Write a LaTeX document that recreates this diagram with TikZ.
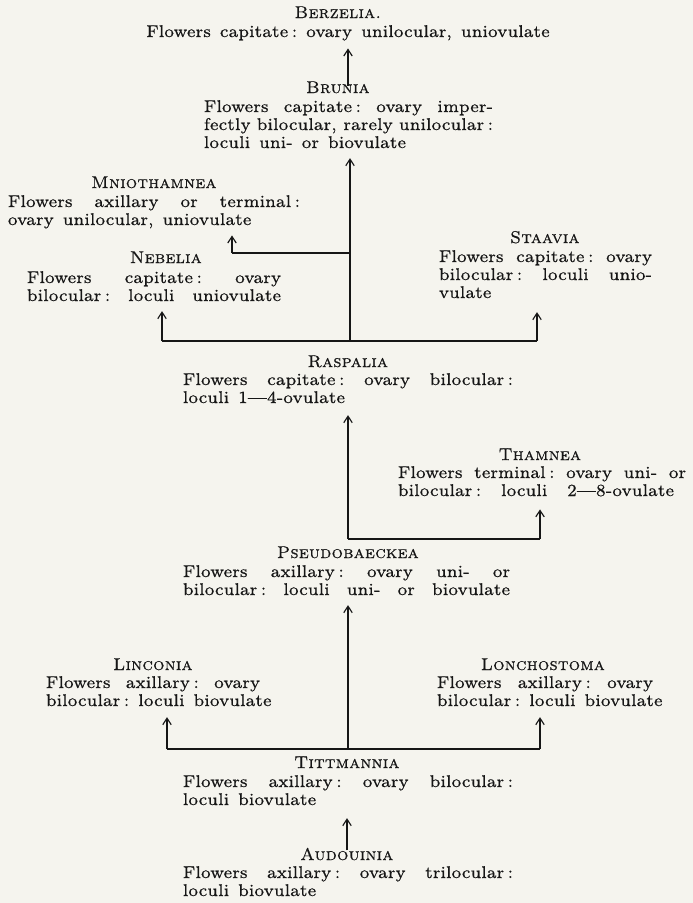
\documentclass[tikz,border=0pt]{standalone}
\usepackage{fontspec}
\setmainfont{lmroman8-regular}[Extension=.otf, SmallCapsFont=lmromancaps10-regular, FakeStretch=1.04, LetterSpace=2, WordSpace=1.4, FakeBold=0.6]
\usetikzlibrary{arrows.meta}
\definecolor{paper}{RGB}{245,244,238}
\definecolor{ink}{RGB}{22,22,22}
\newcommand\jl[2]{\makebox[#1pt][s]{#2}}
\newcommand\cln{\hspace{.22em}:}
\tikzset{
  txt/.style={inner sep=0pt, outer sep=0pt, text=ink, font=\fontsize{17}{18}\selectfont},
  nm/.style={txt, anchor=base},
  body/.style={txt, anchor=base west},
  arr/.style={draw=ink, line width=1.15pt, -{Straight Barb[length=6.5pt,width=8.5pt]}},
  hl/.style={draw=ink, line width=1.6pt},
}
\begin{document}
\begin{tikzpicture}[x=1pt, y=-1pt]
\fill[paper] (0,0) rectangle (693,903);
\useasboundingbox (0,0) rectangle (693,903);

% Berzelia
\node[nm] (berzN) at (338,18) {\textsc{Berzelia.}};
\node[nm] (berz) at (348,37) {Flowers capitate\cln\ ovary unilocular, uniovulate};
% Brunia
\node[nm] (brunN) at (338,93) {\textsc{Brunia}};
\node[body] (brun) at (204,112) {\vtop{\hbox{\jl{289}{Flowers capitate\cln\ ovary imper-}}\hbox{\jl{289}{fectly bilocular, rarely unilocular\cln}}\hbox{loculi uni- or biovulate}}};
% Mniothamnea
\node[nm] (mnioN) at (154,188) {\textsc{Mniothamnea}};
\node[body] (mnio) at (8,207) {\vtop{\hbox{\jl{292}{Flowers axillary or terminal\cln}}\hbox{ovary unilocular, uniovulate}}};
% Nebelia
\node[nm] (nebN) at (166,263) {\textsc{Nebelia}};
\node[body] (neb) at (27,283) {\vtop{\hbox{\jl{254}{Flowers capitate\cln\ ovary}}\hbox{\jl{254}{bilocular\cln\ loculi uniovulate}}}};
% Staavia
\node[nm] (staN) at (545,243) {\textsc{Staavia}};
\node[body] (sta) at (439,262) {\vtop{\hbox{\jl{213}{Flowers capitate\cln\ ovary}}\hbox{\jl{213}{bilocular\cln\ loculi unio-}}\hbox{vulate}}};
% Raspalia
\node[nm] (rasN) at (348,367) {\textsc{Raspalia}};
\node[body] (ras) at (183,385) {\vtop{\hbox{\jl{330}{Flowers capitate\cln\ ovary bilocular\cln}}\hbox{loculi 1—4-ovulate}}};
% Thamnea
\node[nm] (thaN) at (540,460) {\textsc{Thamnea}};
\node[body] (tha) at (398,478) {\vtop{\hbox{\jl{288}{Flowers terminal\cln\ ovary uni- or}}\hbox{\jl{276}{bilocular\cln\ loculi 2—8-ovulate}}}};
% Pseudobaeckea
\node[nm] (pseN) at (348,558) {\textsc{Pseudobaeckea}};
\node[body] (pse) at (183,577) {\vtop{\hbox{\jl{327}{Flowers axillary\cln\ ovary uni- or}}\hbox{\jl{327}{bilocular\cln\ loculi uni- or biovulate}}}};
% Linconia
\node[nm] (linN) at (153,670) {\textsc{Linconia}};
\node[body] (lin) at (46,688) {\vtop{\hbox{\jl{214}{Flowers axillary\cln\ ovary}}\hbox{bilocular\cln\ loculi biovulate}}};
% Lonchostoma
\node[nm] (lonN) at (543,670) {\textsc{Lonchostoma}};
\node[body] (lon) at (437,688) {\vtop{\hbox{\jl{216}{Flowers axillary\cln\ ovary}}\hbox{bilocular\cln\ loculi biovulate}}};
% Tittmannia
\node[nm] (titN) at (347,768) {\textsc{Tittmannia}};
\node[body] (tit) at (183,787) {\vtop{\hbox{\jl{330}{Flowers axillary\cln\ ovary bilocular\cln}}\hbox{loculi biovulate}}};
% Audouinia
\node[nm] (audN) at (347,860) {\textsc{Audouinia}};
\node[body] (aud) at (183,878) {\vtop{\hbox{\jl{330}{Flowers axillary\cln\ ovary trilocular\cln}}\hbox{loculi biovulate}}};

% junctions
\coordinate (b1M) at (350,341);
\coordinate (b1L) at (162,341);
\coordinate (b1R) at (537,341);
\coordinate (m1) at (350,253);
\coordinate (m2) at (232,253);
\coordinate (c2) at (348,539);
\coordinate (c2t) at (540,539);
\coordinate (b3M) at (348,749);
\coordinate (b3L) at (167,749);
\coordinate (b3R) at (540,749);

% connectors
\draw[arr, shorten <=-4.5pt, shorten >=8pt] (berz.south |- brunN.north) -- (berz.south);

\draw[hl] (b1L) -- (b1R);
\draw[arr, shorten >=10pt] (b1M) -- (b1M |- brun.south);
\draw[arr, shorten >=10pt] (b1L) -- (b1L |- neb.south);
\draw[arr, shorten >=14pt] (b1R) -- (b1R |- sta.south);
\draw[hl, line width=1.3pt] (m1) -- (m2);
\draw[arr, shorten >=7pt] (m2) -- (m2 |- mnio.south);

\draw[hl] (c2) -- (c2t);
\draw[arr, shorten >=12pt] (c2) -- (c2 |- ras.south);
\draw[arr, shorten >=13pt] (c2t) -- (c2t |- tha.south);

\draw[hl] (b3L) -- (b3R);
\draw[arr, shorten >=10pt] (b3M) -- (b3M |- pse.south);
\draw[arr, shorten >=11pt] (b3L) -- (b3L |- lin.south);
\draw[arr, shorten >=11pt] (b3R) -- (b3R |- lon.south);

\draw[arr, shorten <=-2.5pt, shorten >=13pt] (audN.north) -- (audN.north |- tit.south);
\end{tikzpicture}
\end{document}
